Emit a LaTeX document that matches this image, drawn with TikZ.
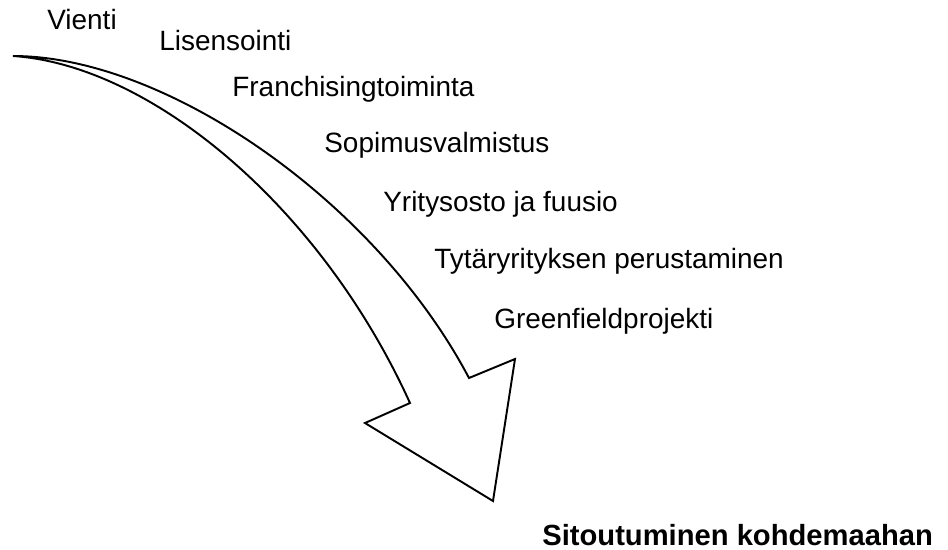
\documentclass[tikz,border=0pt]{standalone}
\usepackage{fontspec}
\setmainfont{Liberation Sans}
\begin{document}
\begin{tikzpicture}[x=0.02cm, y=-0.02cm,
    lbl/.style={anchor=base west, inner sep=0pt, font=\fontsize{15.9}{19}\selectfont}]
\useasboundingbox (0,0) rectangle (948,549);

\node[lbl] (vienti) at (47,29) {Vienti};
\node[lbl] (lisensointi) at (159,50) {Lisensointi};
\node[lbl] (franchising) at (232,96) {Franchisingtoiminta};
\node[lbl] (sopimus) at (324,152) {Sopimusvalmistus};
\node[lbl] (yritysosto) at (383,211) {Yritysosto ja fuusio};
\node[lbl] (tytar) at (434,268) {Tytäryrityksen perustaminen};
\node[lbl] (greenfield) at (494,328) {Greenfieldprojekti};
\node[lbl, font=\fontsize{16.6}{20}\selectfont\bfseries] (sitoutuminen) at (542,545) {Sitoutuminen kohdemaahan};

\coordinate (tail) at (13,56);
\coordinate (notchA) at (469,378);
\coordinate (barbA) at (515,359);
\coordinate (tip) at (493,501);
\coordinate (barbB) at (365,423);
\coordinate (notchB) at (410,403);

\draw[line width=1.1pt] (tail) .. controls (165,56) and (375,200) .. (notchA) -- (barbA) -- (tip) -- (barbB) -- (notchB) .. controls (320,205) and (150,65) .. cycle;
\end{tikzpicture}
\end{document}
